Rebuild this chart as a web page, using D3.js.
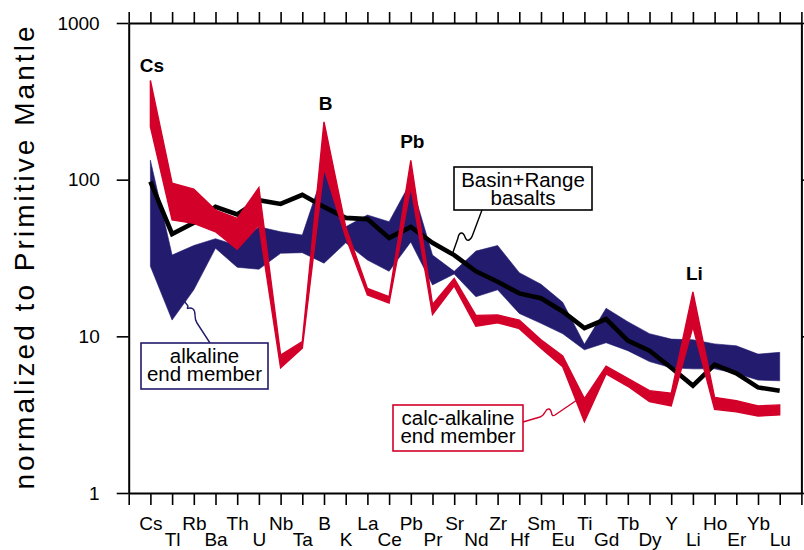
<!DOCTYPE html>
<html>
<head>
<meta charset="utf-8">
<script src="https://cdn.jsdelivr.net/npm/d3@7"></script>
<style>
  html, body { margin: 0; padding: 0; background: #fff; }
  svg { display: block; }
  text { font-family: "Liberation Sans", Arial, Helvetica, sans-serif; }
</style>
</head>
<body>
<svg id="chart" width="804" height="550"></svg>
<script>
// Trace-element pattern, normalized to primitive mantle
const elements = ["Cs","Tl","Rb","Ba","Th","U","Nb","Ta","B","K","La","Ce","Pb","Pr","Sr",
                  "Nd","Zr","Hf","Sm","Eu","Ti","Gd","Tb","Dy","Y","Li","Ho","Er","Yb","Lu"];

// Basin+Range basalts (average pattern)
const basinRange = [97, 45, 53, 67, 60, 74, 70, 80, 67, 57, 56, 42.5, 50, 39.5, 33,
                    26, 22.3, 18.8, 17.5, 14.4, 11.3, 12.9, 9.4, 8.1, 6.3, 4.85, 6.6, 5.8, 4.72, 4.5];

// alkaline end member (range)
const alkalineHigh = [133, 33, 38, 42, 38, 50, 46.5, 44.3, 115, 50, 59.5, 53.9, 97, 33, 26,
                      35, 38, 25.5, 21.5, 16.5, 8.9, 15.1, 12.4, 10.4, 9.6, 9.5, 8.95, 8.7, 7.7, 7.9];
const alkalineLow  = [28, 12.7, 19.8, 36.5, 27.6, 26.8, 33.9, 34.2, 29.3, 39.5, 30.7, 26, 40, 21.3, 25,
                      17.9, 19.8, 14, 12.1, 10.4, 8.2, 9.1, 8.1, 6.9, 6.3, 6.2, 6.2, 5.8, 5.26, 5.2];

// calc-alkaline end member (range)
const calcHigh = [430, 95, 87, 64, 56.6, 89, 7.6, 9.25, 234, 50, 20.2, 17.9, 133, 16, 23.4,
                  13.6, 13.7, 12.7, 9.5, 7.5, 4.0, 6.45, 5.4, 4.5, 4.33, 19.2, 4.08, 3.88, 3.6, 3.65];
const calcLow  = [218, 55.3, 52.6, 46.5, 35.9, 51.3, 6.3, 8.4, 118, 43, 18.4, 16.3, 90, 13.8, 21,
                  11.6, 12.2, 11.2, 8.4, 6.4, 2.85, 5.75, 4.8, 3.83, 3.6, 11.5, 3.42, 3.3, 3.1, 3.15];

// labelled peaks (taken from the calc-alkaline maxima)
const peakLabels = ["Cs", "B", "Pb", "Li"];

const yTicks = [1, 10, 100, 1000];

const NAVY = "#221b6e";
const RED = "#d3002a";

const svg = d3.select("#chart");
const plotLeft = 128.7, plotRight = 801.4, plotTop = 23, plotBottom = 493;

// element index -1 and 30 sit on the frame edges
const x = d3.scaleLinear().domain([-1, elements.length]).range([plotLeft, plotRight]);
const y = d3.scaleLog().domain([1, 1000]).range([plotBottom, plotTop]);

const area = (lo, hi) => d3.area()
  .x((d, i) => x(i))
  .y0((d, i) => y(lo[i]))
  .y1((d, i) => y(hi[i]))(elements);

// alkaline band
svg.append("path")
  .attr("d", area(alkalineLow, alkalineHigh))
  .attr("fill", NAVY)
  .attr("stroke", NAVY)
  .attr("stroke-width", 0.6);

// Basin+Range line
svg.append("path")
  .attr("d", d3.line().x((d, i) => x(i)).y(d => y(d))(basinRange))
  .attr("fill", "none")
  .attr("stroke", "#000")
  .attr("stroke-width", 4.6)
  .attr("stroke-linejoin", "miter")
  .attr("stroke-miterlimit", 3);

// calc-alkaline band
svg.append("path")
  .attr("d", area(calcLow, calcHigh))
  .attr("fill", RED)
  .attr("stroke", RED)
  .attr("stroke-width", 1.4)
  .attr("stroke-linejoin", "miter");

// axes
const axisStyle = g => {
  g.select(".domain").attr("stroke-width", 2);
  g.selectAll(".tick line").attr("stroke-width", 1.6);
};

const xIdx = d3.range(-1, elements.length + 1);

svg.append("g")
  .attr("transform", `translate(0,${plotBottom})`)
  .call(d3.axisBottom(x).tickValues(xIdx).tickSize(12).tickSizeOuter(0).tickPadding(11.5)
        .tickFormat(i => elements[i] || ""))
  .call(axisStyle)
  .call(g => g.selectAll(".tick text")
        .attr("font-size", 19)
        .attr("font-family", "'Liberation Sans', Arial, sans-serif")
        .attr("fill", "#000")
        .attr("y", i => (i % 2 === 0 ? 23.5 : 40)));

svg.append("g")
  .attr("transform", `translate(0,${plotTop})`)
  .call(d3.axisTop(x).tickValues(xIdx).tickSize(11).tickSizeOuter(0).tickFormat(""))
  .call(axisStyle);

svg.append("g")
  .attr("transform", `translate(${plotLeft},0)`)
  .call(d3.axisLeft(y).tickValues(yTicks).tickSize(12).tickSizeOuter(0).tickPadding(17)
        .tickFormat(d3.format("d")))
  .call(axisStyle)
  .call(g => g.selectAll(".tick text")
        .attr("font-size", 19)
        .attr("font-family", "'Liberation Sans', Arial, sans-serif")
        .attr("fill", "#000"));

svg.append("g")
  .attr("transform", `translate(${plotRight},0)`)
  .call(d3.axisRight(y).tickValues(yTicks).tickSize(12).tickSizeOuter(0).tickFormat(""))
  .call(axisStyle);

// y-axis title
svg.append("text")
  .attr("transform", `translate(33.5,258) rotate(-90)`)
  .attr("text-anchor", "middle")
  .attr("font-size", 28)
  .attr("textLength", 463)
  .attr("lengthAdjust", "spacing")
  .text("normalized to Primitive Mantle");

// peak labels above the calc-alkaline maxima
peakLabels.forEach(el => {
  const i = elements.indexOf(el);
  const gap = i === 0 ? 8 : 12;
  svg.append("text")
    .attr("x", x(i) + 1.5)
    .attr("y", y(calcHigh[i]) - gap)
    .attr("text-anchor", "middle")
    .attr("font-size", 19)
    .attr("font-weight", "bold")
    .text(el);
});

// callout boxes with wavy leader lines
function callout(box, lines, color, leader) {
  svg.append("path")
    .attr("d", leader)
    .attr("fill", "none")
    .attr("stroke", color)
    .attr("stroke-width", 1.4);
  svg.append("rect")
    .attr("x", box.x).attr("y", box.y)
    .attr("width", box.w).attr("height", box.h)
    .attr("fill", "#fff")
    .attr("stroke", color)
    .attr("stroke-width", 1.6);
  const t = svg.append("text")
    .attr("text-anchor", "middle")
    .attr("font-size", 20.5)
    .attr("fill", "#000");
  lines.forEach((line, k) => {
    t.append("tspan")
      .attr("x", box.x + box.w / 2)
      .attr("y", box.y + 19.5 + k * 18)
      .text(line);
  });
}

const srX = x(elements.indexOf("Sr")), srY = y(basinRange[elements.indexOf("Sr")]);
callout({ x: 454, y: 167, w: 138, h: 43 }, ["Basin+Range", "basalts"], "#000",
  `M482,210 L473,234 C471,240 467,243 465,237 C463,231 459,232 458,238 L${srX - 1.5},${srY - 2}`);

callout({ x: 141, y: 343, w: 127, h: 46 }, ["alkaline", "end member"], NAVY,
  "M210,343 L197,323 C193,317 197,312 193,309 C189,306 186,311 188,306 L182,298");

callout({ x: 393, y: 405, w: 130, h: 46 }, ["calc-alkaline", "end member"], RED,
  "M523,422 L540,417 C546,415 545,408 549,409 C553,410 550,418 555,415 L577,400");
</script>
</body>
</html>
